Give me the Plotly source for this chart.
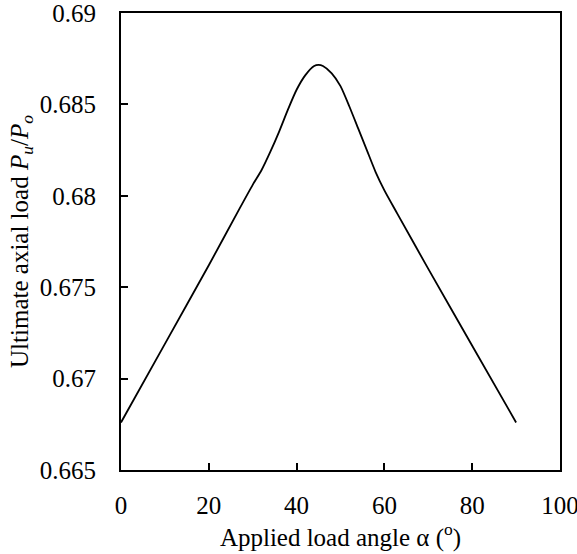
import plotly.graph_objects as go

# Applied load angle (degrees)
angle = [0, 10, 20, 27, 30, 32, 34, 36, 38, 40, 42, 44, 45, 46, 48, 50, 52, 54, 56, 58, 60, 63, 70, 80, 90]
# Ultimate axial load ratio Pu/Po
ratio = [0.6676, 0.6719, 0.6762, 0.6793, 0.6806, 0.6814, 0.6824, 0.6835, 0.6847, 0.6858,
         0.6866, 0.6871, 0.68716, 0.6871, 0.6867, 0.6860, 0.6849, 0.6837, 0.6825, 0.6813,
         0.6803, 0.6790, 0.6760, 0.6718, 0.6676]

x_ticks = [0, 20, 40, 60, 80, 100]
y_ticks = [0.665, 0.67, 0.675, 0.68, 0.685, 0.69]
y_tick_text = ["0.665", "0.67", "0.675", "0.68", "0.685", "0.69"]

FONT = "Liberation Serif, Times New Roman, serif"
FS = 25

fig = go.Figure()
fig.add_trace(go.Scatter(
    x=angle, y=ratio, mode="lines",
    line=dict(color="black", width=1.8, shape="spline", smoothing=0.6),
    showlegend=False, hoverinfo="skip",
))

fig.update_layout(
    width=577, height=554,
    margin=dict(l=121, r=17, t=13, b=84),
    paper_bgcolor="white", plot_bgcolor="white",
    font=dict(family=FONT, size=FS, color="black"),
)
fig.update_xaxes(
    range=[0, 100], tickvals=x_ticks, ticks="inside", ticklen=7, tickwidth=1.5,
    tickcolor="black", showline=True, linecolor="black", linewidth=2, mirror=True,
    showgrid=False, zeroline=False, automargin=False, ticklabelstandoff=12,
    ticklabeloverflow="allow",
    tickfont=dict(family=FONT, size=FS),
    title=dict(text="Applied load angle α (<sup>o</sup>)", font=dict(family=FONT, size=FS), standoff=8),
)
fig.update_yaxes(
    range=[0.665, 0.69], tickvals=y_ticks, ticktext=y_tick_text, ticks="inside", ticklen=7, tickwidth=1.5,
    tickcolor="black", showline=True, linecolor="black", linewidth=2, mirror=True,
    showgrid=False, zeroline=False, automargin=False, ticklabelstandoff=18,
    ticklabeloverflow="allow",
    tickfont=dict(family=FONT, size=FS),
    title=dict(text="Ultimate axial load <i>P<sub>u</sub></i>/<i>P<sub>o</sub></i>",
               font=dict(family=FONT, size=FS), standoff=4),
)

# remove the browser's default 8px body margin so the figure fills the window
fig.write_html("out.html", config={"displayModeBar": False},
               post_script="document.body.style.margin='0';")
